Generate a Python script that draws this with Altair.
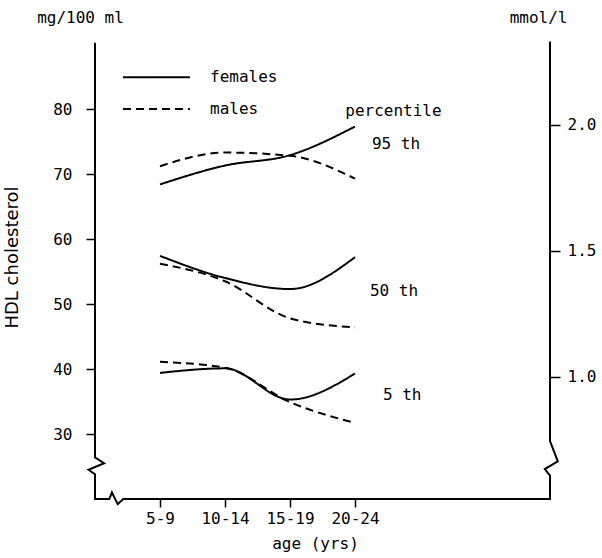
import json
import altair as alt
import pandas as pd

# ---------------- data ----------------
ages = ["5-9", "10-14", "15-19", "20-24"]
female_p95 = [68.4, 71.3, 72.9, 77.3]
male_p95 = [71.2, 73.3, 72.8, 69.3]
female_p50 = [57.4, 54.0, 52.3, 57.2]
male_p50 = [56.2, 53.5, 47.8, 46.4]
female_p5 = [39.4, 40.1, 35.3, 39.3]
male_p5 = [41.1, 40.2, 34.9, 31.7]

mg_ticks = [30, 40, 50, 60, 70, 80]
mmol_ticks = [1.0, 1.5, 2.0]
MG_PER_MMOL = 38.8

pct_labels = ["percentile", "95 th", "50 th", "5 th"]
sexes = ["females", "males"]

# ---------------- layout helpers (data units) ----------------
X_DOM = [-1, 6]
Y_DOM = [20, 90]
MONO = "DejaVu Sans Mono"

# axis frame with break marks (x in age-index units, y in mg/100 ml)
frame_x = [-1, -1, -0.86, -1.1, -1, -1, -0.78, -0.74, -0.65, -0.565, 6, 6, 5.92, 6.12, 6, 6]
frame_y = [90.2, 26.4, 25.5, 24.5, 23.8, 20, 20, 21.0, 19.2, 20.0, 20, 23.6, 24.6, 25.8, 28.9, 90.4]

# annotation placement
pct_x = [2.85, 3.26, 3.23, 3.43]
pct_y = [79.7, 74.6, 52.0, 36.0]
unit_labels = ["mg/100 ml", "mmol/l"]
unit_x = [-1.89, 5.38]
unit_y = [94.0, 94.0]
leg_x0, leg_x1, leg_tx = -0.57, 0.46, 0.77
leg_y = [84.9, 80.0]

# ---------------- tables ----------------
rows = []
for sex, pct, vals in [
    ("females", "95", female_p95), ("males", "95", male_p95),
    ("females", "50", female_p50), ("males", "50", male_p50),
    ("females", "5", female_p5), ("males", "5", male_p5),
]:
    for i, v in enumerate(vals):
        rows.append({"idx": i, "age": ages[i], "value": v, "sex": sex,
                     "series": sex + pct})
lines_df = pd.DataFrame(rows)

frame_df = pd.DataFrame({"idx": frame_x, "value": frame_y, "o": list(range(len(frame_x)))})
pct_df = pd.DataFrame({"idx": pct_x, "value": pct_y, "t": pct_labels})
unit_df = pd.DataFrame({"idx": unit_x, "value": unit_y, "t": unit_labels})
leg_df = pd.DataFrame({"sex": sexes, "idx": [leg_x0] * 2, "x1": [leg_x1] * 2,
                       "tx": [leg_tx] * 2, "value": leg_y})
mmol_df = pd.DataFrame({"mmol": mmol_ticks, "idx": [6] * len(mmol_ticks)})

label_expr = "%s[datum.value]" % json.dumps(ages)

xscale = alt.Scale(domain=X_DOM, nice=False, zero=False)
yscale = alt.Scale(domain=Y_DOM, nice=False, zero=False)
dash_scale = alt.Scale(domain=sexes, range=[[1, 0], [8, 5]])

x_axis = alt.Axis(values=[0, 1, 2, 3], labelExpr=label_expr, domain=False, grid=False,
                  tickSize=8, tickColor="black", tickWidth=1.5, labelPadding=3,
                  labelFont=MONO, labelFontSize=16, labelColor="black", labelOverlap=False,
                  title="age (yrs)", titleFont=MONO, titleFontSize=16, titleFontWeight="normal",
                  titleColor="black", titleX=220, titlePadding=9, titleAlign="center")
y_axis = alt.Axis(values=mg_ticks, domain=False, grid=False, tickSize=9, tickColor="black",
                  tickWidth=1.5, labelPadding=14, labelFont=MONO, labelFontSize=16,
                  labelColor="black", title="HDL cholesterol", titleFont="DejaVu Sans",
                  titleFontSize=18, titleFontWeight="normal", titleColor="black",
                  titleAngle=270, titleX=-83, titleY=213, titleAlign="center",
                  titleBaseline="middle")

X = alt.X("idx:Q", scale=xscale, axis=x_axis, title="age (yrs)")
Y = alt.Y("value:Q", scale=yscale, axis=y_axis, title="HDL cholesterol")
Xp = alt.X("idx:Q", scale=xscale, title="age (yrs)")
Yp = alt.Y("value:Q", scale=yscale, title="HDL cholesterol")

curves = alt.Chart(lines_df).mark_line(interpolate="monotone", color="black",
                                       strokeWidth=2).encode(
    x=X, y=Y, detail="series:N",
    strokeDash=alt.StrokeDash("sex:N", scale=dash_scale, legend=None),
)

frame = alt.Chart(frame_df).mark_line(color="black", strokeWidth=2, clip=False).encode(
    x=Xp, y=Yp, order="o:Q",
)

pct_text = alt.Chart(pct_df).mark_text(font=MONO, fontSize=16, align="left",
                                       baseline="middle", color="black").encode(
    x=Xp, y=Yp, text="t:N")

unit_text = alt.Chart(unit_df).mark_text(font=MONO, fontSize=16, align="left",
                                         baseline="middle", color="black", clip=False).encode(
    x=Xp, y=Yp, text="t:N")

leg_lines = alt.Chart(leg_df).mark_rule(color="black", strokeWidth=2).encode(
    x=Xp, x2="x1:Q", y=Yp,
    strokeDash=alt.StrokeDash("sex:N", scale=alt.Scale(domain=sexes, range=[[1, 0], [6, 4]]),
                              legend=None))
leg_text = alt.Chart(leg_df).mark_text(font=MONO, fontSize=16, align="left",
                                       baseline="middle", color="black").encode(
    x=alt.X("tx:Q", scale=xscale, title="age (yrs)"), y=Yp, text="sex:N")

left = alt.layer(curves, frame, pct_text, unit_text, leg_lines, leg_text)

right = alt.Chart(mmol_df).mark_point(opacity=0).encode(
    x=Xp,
    y=alt.Y("mmol:Q",
            scale=alt.Scale(domain=[Y_DOM[0] / MG_PER_MMOL, Y_DOM[1] / MG_PER_MMOL],
                            nice=False, zero=False),
            axis=alt.Axis(orient="right", values=mmol_ticks, format=".1f", domain=False,
                          grid=False, tickSize=10, tickColor="black", tickWidth=1.5,
                          labelPadding=7, labelFont=MONO, labelFontSize=16,
                          labelColor="black", title=None)),
)

chart = alt.layer(left, right).resolve_scale(y="independent").properties(
    width=455, height=455,
    padding={"left": 95, "top": 44, "right": 52, "bottom": 59},
    autosize=alt.AutoSizeParams(type="none"),
    background="white",
).configure_view(stroke=None)

chart.save("out.html", embed_options={"renderer": "svg", "actions": False})
